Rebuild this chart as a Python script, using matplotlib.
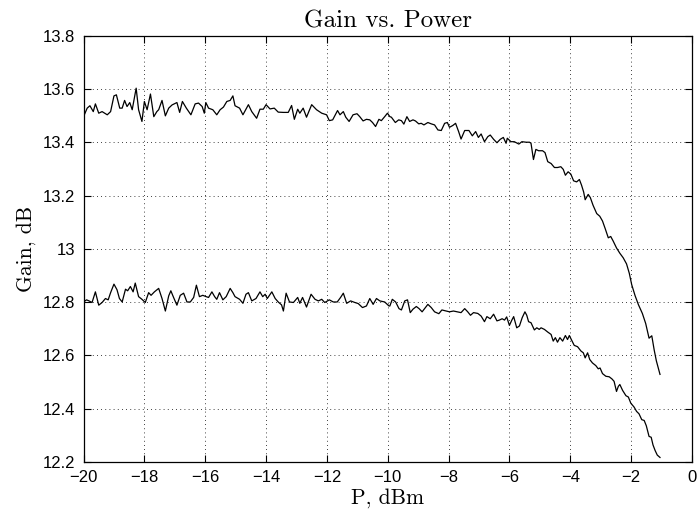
import numpy as np
import matplotlib.pyplot as plt

# --- data (P in dBm, gain in dB) ---
p_hi = [-20.00, -19.88, -19.79, -19.68, -19.61, -19.50, -19.39, -19.22, -19.11, -19.00,
        -18.92, -18.81, -18.73, -18.65, -18.57, -18.48, -18.40, -18.35, -18.27, -18.19,
        -18.08, -18.00, -17.91, -17.80, -17.69, -17.59, -17.53, -17.42, -17.31, -17.20,
        -17.09, -16.93, -16.84, -16.75, -16.62, -16.47, -16.33, -16.22, -16.10, -16.03,
        -15.98, -15.89, -15.75, -15.62, -15.51, -15.40, -15.29, -15.18, -15.09, -15.02,
        -14.87,
        -14.76, -14.58, -14.47, -14.31, -14.20, -14.09, -14.00, -13.87, -13.73, -13.60,
        -13.43, -13.27, -13.16, -13.07, -12.96, -12.89, -12.78, -12.67, -12.50, -12.34,
        -12.17, -12.01, -11.92, -11.81, -11.65, -11.57, -11.46, -11.38, -11.27, -11.14,
        -11.01, -10.92, -10.81, -10.70, -10.59, -10.50, -10.40, -10.29, -10.21, -10.10,
        -10.01, -9.93,
        -9.88, -9.75, -9.64, -9.55, -9.47, -9.37, -9.28, -9.17, -9.09, -8.98,
        -8.90, -8.81, -8.68, -8.57, -8.46, -8.35, -8.24, -8.13, -8.04, -7.97,
        -7.86, -7.77, -7.67, -7.59, -7.47, -7.33, -7.22, -7.11, -7.02, -6.93,
        -6.82, -6.71, -6.63, -6.52, -6.41, -6.30, -6.20, -6.11, -6.07, -5.95,
        -5.84, -5.69, -5.59, -5.45, -5.34, -5.29, -5.21, -5.13, -5.04,
        -4.91, -4.83, -4.74, -4.63, -4.52, -4.42, -4.31, -4.23, -4.16, -4.07,
        -3.98, -3.89, -3.79, -3.70, -3.63, -3.56, -3.51, -3.41, -3.34, -3.25,
        -3.13, -3.03, -2.94, -2.85, -2.75, -2.67, -2.59, -2.48, -2.37, -2.26,
        -2.15, -2.06, -1.98, -1.87, -1.76, -1.63, -1.52, -1.41, -1.32, -1.24,
        -1.17, -1.11, -1.05]
gain_hi = [13.497, 13.529, 13.538, 13.516, 13.545, 13.510, 13.516, 13.504, 13.516, 13.575,
           13.579, 13.529, 13.529, 13.558, 13.535, 13.550, 13.523, 13.554, 13.604, 13.523,
           13.479, 13.554, 13.523, 13.582, 13.497, 13.516, 13.523, 13.558, 13.500, 13.529,
           13.541, 13.550, 13.513, 13.554, 13.529, 13.504, 13.545, 13.548, 13.535, 13.510,
           13.550, 13.529, 13.523, 13.504, 13.523, 13.533, 13.554, 13.558, 13.575, 13.538,
           13.529,
           13.504, 13.542, 13.516, 13.491, 13.525, 13.525, 13.542, 13.526, 13.529, 13.514,
           13.513, 13.513, 13.539, 13.487, 13.525, 13.510, 13.529, 13.495, 13.542, 13.523,
           13.510, 13.504, 13.482, 13.485, 13.520, 13.504, 13.516, 13.495, 13.479, 13.504,
           13.508, 13.497, 13.481, 13.487, 13.485, 13.475, 13.460, 13.487, 13.482, 13.497,
           13.510, 13.497,
           13.495, 13.475, 13.485, 13.482, 13.469, 13.497, 13.479, 13.485, 13.481, 13.470,
           13.472, 13.466, 13.475, 13.470, 13.466, 13.447, 13.445, 13.472, 13.475, 13.457,
           13.464, 13.472, 13.441, 13.413, 13.445, 13.445, 13.425, 13.441, 13.419, 13.432,
           13.403, 13.422, 13.428, 13.412, 13.399, 13.412, 13.419, 13.397, 13.416, 13.403,
           13.403, 13.394, 13.403, 13.401, 13.401, 13.397, 13.336, 13.374, 13.369,
           13.369, 13.362, 13.328, 13.321, 13.306, 13.306, 13.309, 13.299, 13.277, 13.290,
           13.281, 13.256, 13.252, 13.261, 13.240, 13.214, 13.185, 13.205, 13.193, 13.164,
           13.133, 13.123, 13.105, 13.076, 13.042, 13.047, 13.030, 13.004, 12.984, 12.967,
           12.944, 12.909, 12.866, 12.825, 12.791, 12.758, 12.720, 12.665, 12.674, 12.620,
           12.580, 12.554, 12.529]

p_lo = [-20.00, -19.90, -19.82, -19.72, -19.61, -19.50, -19.39, -19.28, -19.19, -19.11,
        -19.00, -18.90, -18.82, -18.73, -18.62, -18.55, -18.46, -18.37, -18.30, -18.19,
        -18.08, -17.97, -17.86, -17.78, -17.67, -17.53, -17.42, -17.31, -17.20, -17.13,
        -17.04, -16.93, -16.82, -16.71, -16.60, -16.49, -16.38, -16.29, -16.19, -16.08,
        -15.97, -15.89, -15.78, -15.69, -15.62, -15.53, -15.42, -15.31, -15.18, -15.09,
        -15.02, -14.87,
        -14.76, -14.66, -14.58, -14.47, -14.33, -14.20, -14.11, -14.03, -13.96, -13.81,
        -13.70, -13.60, -13.49, -13.43, -13.34, -13.23, -13.10, -12.96, -12.89, -12.80,
        -12.67, -12.52, -12.39, -12.28, -12.17, -12.07, -11.92, -11.79, -11.66, -11.55,
        -11.46, -11.35, -11.22, -11.08, -10.97, -10.83, -10.70, -10.59, -10.48, -10.37,
        -10.26, -10.10, -9.96,
        -9.93, -9.85, -9.74, -9.63, -9.55, -9.44, -9.35, -9.26, -9.17, -9.06,
        -8.97, -8.87, -8.79, -8.68, -8.57, -8.46, -8.32, -8.22, -8.08, -7.97,
        -7.84, -7.72, -7.59, -7.47, -7.37, -7.28, -7.18, -7.04, -6.93, -6.82,
        -6.74, -6.63, -6.52, -6.41, -6.33, -6.24, -6.16, -6.09, -6.00, -5.92,
        -5.86, -5.76, -5.67, -5.58, -5.49, -5.43, -5.37, -5.29, -5.18, -5.10,
        -5.02,
        -4.96, -4.85, -4.74, -4.63, -4.56, -4.49, -4.42, -4.34, -4.25, -4.16,
        -4.09, -4.03, -3.94, -3.87, -3.76, -3.65, -3.57, -3.51, -3.43, -3.36,
        -3.27, -3.16, -3.08, -3.02, -2.94, -2.83, -2.72, -2.63, -2.56, -2.48,
        -2.42, -2.37, -2.28, -2.17, -2.09, -2.01, -1.90, -1.82, -1.74, -1.65,
        -1.57, -1.50, -1.41, -1.34, -1.28, -1.21, -1.14, -1.05]
gain_lo = [12.801, 12.809, 12.805, 12.799, 12.839, 12.789, 12.799, 12.814, 12.809, 12.836,
           12.868, 12.847, 12.814, 12.801, 12.849, 12.843, 12.859, 12.839, 12.872, 12.821,
           12.811, 12.799, 12.836, 12.826, 12.839, 12.852, 12.814, 12.767, 12.824, 12.843,
           12.818, 12.789, 12.826, 12.834, 12.801, 12.801, 12.818, 12.864, 12.821, 12.826,
           12.821, 12.818, 12.839, 12.821, 12.811, 12.836, 12.809, 12.821, 12.852, 12.836,
           12.821, 12.811,
           12.796, 12.830, 12.836, 12.805, 12.814, 12.839, 12.821, 12.830, 12.814, 12.839,
           12.814, 12.801, 12.790, 12.767, 12.834, 12.801, 12.799, 12.818, 12.796, 12.818,
           12.782, 12.830, 12.811, 12.805, 12.811, 12.799, 12.809, 12.801, 12.801, 12.818,
           12.834, 12.796, 12.805, 12.799, 12.795, 12.780, 12.786, 12.814, 12.792, 12.814,
           12.805, 12.801, 12.786,
           12.786, 12.811, 12.801, 12.776, 12.771, 12.805, 12.809, 12.761, 12.774, 12.784,
           12.776, 12.764, 12.776, 12.792, 12.780, 12.764, 12.757, 12.771, 12.767, 12.764,
           12.767, 12.764, 12.761, 12.776, 12.764, 12.751, 12.761, 12.758, 12.748, 12.727,
           12.746, 12.738, 12.755, 12.730, 12.733, 12.738, 12.733, 12.745, 12.713, 12.733,
           12.746, 12.704, 12.711, 12.742, 12.764, 12.751, 12.727, 12.723, 12.696, 12.704,
           12.698,
           12.704, 12.698, 12.688, 12.679, 12.654, 12.667, 12.650, 12.667, 12.654, 12.675,
           12.660, 12.675, 12.654, 12.638, 12.633, 12.617, 12.610, 12.591, 12.610, 12.585,
           12.572, 12.562, 12.550, 12.553, 12.532, 12.522, 12.520, 12.512, 12.503, 12.465,
           12.484, 12.491, 12.469, 12.449, 12.444, 12.421, 12.406, 12.390, 12.381, 12.359,
           12.356, 12.336, 12.296, 12.293, 12.264, 12.243, 12.226, 12.217]

x_ticks = [-20, -18, -16, -14, -12, -10, -8, -6, -4, -2, 0]
y_ticks = [12.2, 12.4, 12.6, 12.8, 13.0, 13.2, 13.4, 13.6, 13.8]
y_labels = ['12.2', '12.4', '12.6', '12.8', '13', '13.2', '13.4', '13.6', '13.8']

TICK_FONT = 'Liberation Sans'
TEXT_FONT = 'cmr10'

fig = plt.figure(figsize=(6.99, 5.17), dpi=100)
ax = fig.add_axes([0.1195, 0.1064, 0.8704, 0.824])

ax.plot(p_hi, gain_hi, color='black', lw=0.9)
ax.plot(p_lo, gain_lo, color='black', lw=0.9)

ax.set_xlim(-20, 0)
ax.set_ylim(12.2, 13.8)
ax.set_xticks(x_ticks)
ax.set_xticklabels(['\u2212%d' % -t if t < 0 else '%d' % t for t in x_ticks])
ax.set_yticks(y_ticks)
ax.set_yticklabels(y_labels)

# MATLAB look: ticks inward on all sides, dotted grid
ax.tick_params(direction='in', top=True, right=True, length=5, width=0.8,
               labelsize=12, pad=6)
for lab in ax.get_xticklabels() + ax.get_yticklabels():
    lab.set_fontfamily(TICK_FONT)
ax.grid(True, linestyle=(0, (1, 4)), color='black', linewidth=0.6)
for sp in ax.spines.values():
    sp.set_linewidth(0.9)

ax.set_title('Gain vs. Power', fontfamily=TEXT_FONT, fontsize=18, pad=6)
ax.set_xlabel('P, dBm', fontfamily=TEXT_FONT, fontsize=15.5, labelpad=2)
ax.set_ylabel('Gain, dB', fontfamily=TEXT_FONT, fontsize=15.5, labelpad=5)

fig.savefig('out.png', dpi=100)
